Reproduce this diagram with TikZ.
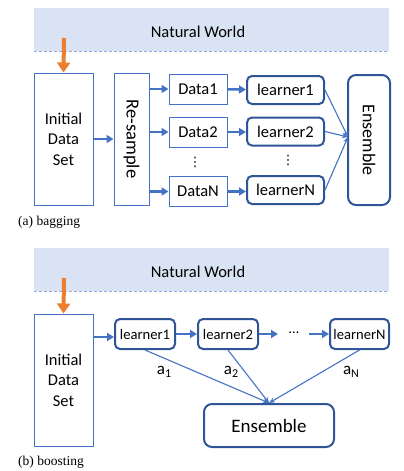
\documentclass[tikz,border=0pt]{standalone}
\usepackage{fontspec}
\setmainfont{Carlito}
\newfontfamily\capfont{Liberation Serif}
\newfontfamily\symfont{DejaVu Sans}
\usetikzlibrary{arrows.meta}
\definecolor{mblue}{HTML}{4472C4}
\definecolor{dblue}{HTML}{2F5597}
\definecolor{bandfill}{HTML}{DAE3F3}
\definecolor{dashc}{HTML}{8FAADC}
\definecolor{morange}{HTML}{ED7D31}
\tikzset{
  thinbox/.style={draw=mblue,line width=1pt,fill=white,inner sep=0pt,font=\fontsize{16.5}{20.5}\selectfont,align=center},
  rbox/.style={draw=dblue,line width=2pt,rounded corners=5pt,fill=white,inner sep=0pt,font=\fontsize{16.5}{20}\selectfont},
  arr/.style={draw=mblue,line width=2.5pt,-{Triangle[length=7pt,width=8pt]}},
  tarr/.style={draw=mblue,line width=1.1pt,-{Stealth[length=6pt,width=5pt]}},
  oarr/.style={draw=morange,line width=4pt,-{Triangle[length=10pt,width=13pt]}},
  band/.style={fill=bandfill,draw=none},
  bandline/.style={draw=dashc,line width=1pt,dash pattern=on 3pt off 2pt},
  captext/.style={anchor=base west,inner sep=0pt,font=\capfont\fontsize{13.5}{16}\selectfont},
  lbl/.style={font=\fontsize{17}{20}\selectfont,inner sep=0pt},
  vdot/.style={font=\symfont\fontsize{13}{14}\selectfont,inner sep=0pt}
}
\begin{document}
\begin{tikzpicture}[x=1pt,y=-1pt]
\useasboundingbox (0,0) rectangle (404,471);
% ---------- (a) bagging ----------
\fill[band] (34,8) rectangle (389,51);
\draw[bandline] (34,51) -- (389,51);
\node[font=\fontsize{16.5}{20}\selectfont] (nw1) at (198,32) {Natural World};
\node[thinbox,minimum width=59pt,minimum height=132pt] (init) at (63.5,139) {Initial\\Data\\Set};
\coordinate (o1) at (64,38);
\draw[oarr] (o1) -- (init.north);
\node[thinbox,minimum width=35pt,minimum height=132pt,font=\fontsize{18.5}{20}\selectfont] (res) at (131.5,139) {\rotatebox{-90}{Re-sample}};
\node[thinbox,minimum width=58pt,minimum height=30pt] (d1) at (198,89) {Data1};
\node[thinbox,minimum width=58pt,minimum height=30pt] (d2) at (198,132) {Data2};
\node[thinbox,minimum width=58pt,minimum height=30pt] (dN) at (198,191.5) {DataN};
\node[rbox,minimum width=77pt,minimum height=28pt] (l1) at (285.5,90) {learner1};
\node[rbox,minimum width=77pt,minimum height=28pt] (l2) at (285.5,131.5) {learner2};
\node[rbox,minimum width=77pt,minimum height=28pt] (lN) at (285.5,190) {learnerN};
\node[rbox,minimum width=42pt,minimum height=130pt,rounded corners=8pt,font=\fontsize{18}{20}\selectfont] (ens) at (369,140) {\rotatebox{-90}{Ensemble}};
\node[vdot] (dd) at (195,162) {⋮};
\node[vdot] (ld) at (288,160) {⋮};
\draw[arr] (init.east |- 0,139) -- (res.west |- 0,139);
\draw[arr] (res.east |- d1.west) -- (d1.west);
\draw[arr] (res.east |- d2.west) -- (d2.west);
\draw[arr] (res.east |- dN.west) -- (dN.west);
\draw[arr] (d1) -- (l1);
\draw[arr] (d2.east) -- (l2.west |- d2.east);
\draw[arr] (dN.east) -- (lN.west |- dN.east);
\coordinate (conv) at (348,137);
\draw[tarr] (l1.east) -- (conv);
\draw[tarr] (l2.east) -- (conv);
\draw[tarr] (lN.east) -- (conv);
\node[captext] (capa) at (18,225) {(a) bagging};
% ---------- (b) boosting ----------
\fill[band] (34,248) rectangle (389,291);
\draw[bandline] (34,291) -- (389,291);
\node[font=\fontsize{16.5}{20}\selectfont] (nw2) at (198,272) {Natural World};
\node[thinbox,minimum width=59pt,minimum height=132pt] (init2) at (63.5,380) {Initial\\Data\\Set};
\coordinate (o2) at (64,278);
\draw[oarr] (o2) -- (init2.north);
\node[rbox,minimum width=60pt,minimum height=30pt,font=\fontsize{14.6}{18}\selectfont] (b1) at (145,334) {learner1};
\node[rbox,minimum width=60pt,minimum height=30pt,font=\fontsize{14.6}{18}\selectfont] (b2) at (228,334) {learner2};
\node[rbox,minimum width=59pt,minimum height=30pt,font=\fontsize{14.6}{18}\selectfont] (bN) at (359.5,334) {learnerN};
\node[font=\fontsize{14.6}{18}\selectfont,inner sep=0pt] (bd) at (294,333) {…};
\coordinate (c1) at (278,334);
\coordinate (c2) at (309,334);
\node[rbox,minimum width=130pt,minimum height=43pt,rounded corners=8pt,font=\fontsize{19}{22}\selectfont] (ens2) at (269,425.5) {Ensemble};
\draw[arr] (init2.east |- 0,337) -- (b1.west |- 0,337);
\draw[arr] (b1) -- (b2);
\draw[arr] (b2.east) -- (c1);
\draw[arr] (c2) -- (bN.west);
\draw[tarr] (b1.south) -- (ens2.north);
\draw[tarr] (b2.south) -- (ens2.north);
\draw[tarr] (bN.south) -- (ens2.north);
\node[lbl] (a1) at (164,372) {a\raisebox{-0.35ex}{\fontsize{12}{14}\selectfont 1}};
\node[lbl] (a2) at (231,372) {a\raisebox{-0.35ex}{\fontsize{12}{14}\selectfont 2}};
\node[lbl] (aN) at (351,372) {a\raisebox{-0.35ex}{\fontsize{12}{14}\selectfont N}};
\node[captext] (capb) at (18,465) {(b) boosting};
\end{tikzpicture}
\end{document}
